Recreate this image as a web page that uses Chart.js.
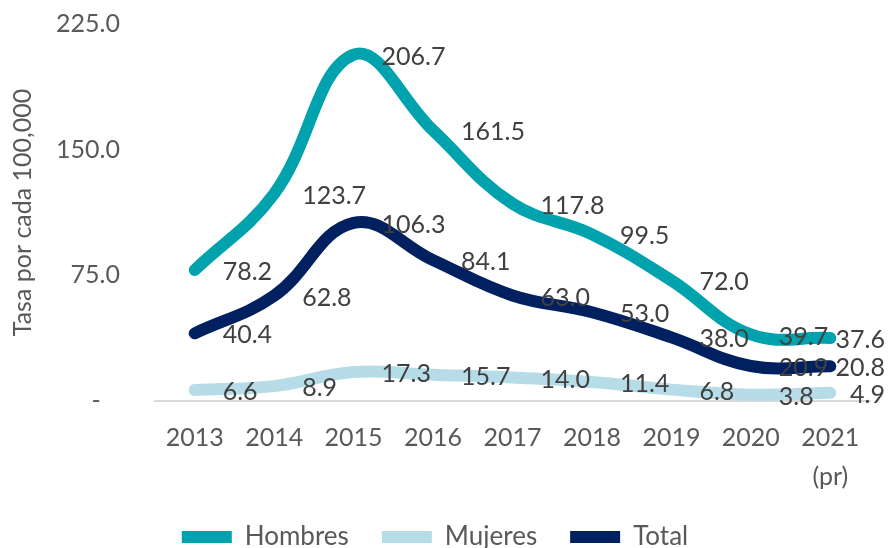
<!DOCTYPE html>
<html>
<head>
<meta charset="utf-8">
<script src="https://cdn.jsdelivr.net/npm/chart.js@4.4.1/dist/chart.umd.min.js"></script>
<style>
  html, body { margin: 0; padding: 0; background: #fff; }
  #wrap { width: 891px; height: 548px; }
</style>
</head>
<body>
<div id="wrap"><canvas id="chart"></canvas></div>
<script>
// ── Data ──────────────────────────────────────────
const years = ['2013', '2014', '2015', '2016', '2017', '2018', '2019', '2020', ['2021', '(pr)']];
const hombres = [78.2, 123.7, 206.7, 161.5, 117.8, 99.5, 72.0, 39.7, 37.6];
const mujeres = [6.6, 8.9, 17.3, 15.7, 14.0, 11.4, 6.8, 3.8, 4.9];
const total = [40.4, 62.8, 106.3, 84.1, 63.0, 53.0, 38.0, 20.9, 20.8];
const yTicks = [0, 75, 150, 225];

const FONT = 'Lato';
const SIZE = 25;

// labels to the right of each point, like Excel's "right" position
const valueLabels = {
  id: 'valueLabels',
  afterDatasetsDraw(chart) {
    const ctx = chart.ctx;
    ctx.save();
    ctx.font = `${SIZE}px ${FONT}`;
    ctx.fillStyle = '#404040';
    ctx.textAlign = 'left';
    ctx.textBaseline = 'middle';
    chart.data.datasets.forEach((ds, di) => {
      const meta = chart.getDatasetMeta(di);
      meta.data.forEach((pt, i) => {
        const txt = ds.data[i].toFixed(1);
        const w = ctx.measureText(txt).width;
        let x = pt.x + 28;
        if (x + w > chart.width - 6) x = chart.width - 6 - w;
        ctx.fillText(txt, x, pt.y + 2);
      });
    });
    ctx.restore();
  },
};

const lineStyle = {
  borderWidth: 12,
  borderCapStyle: 'round',
  borderJoinStyle: 'round',
  pointRadius: 0,
  pointHoverRadius: 0,
  tension: 0.4,
  fill: false,
};

new Chart(document.getElementById('chart'), {
  type: 'line',
  data: {
    labels: years,
    datasets: [
      { label: 'Hombres', data: hombres, borderColor: '#00A3AD', backgroundColor: '#00A3AD', order: 2, ...lineStyle },
      { label: 'Mujeres', data: mujeres, borderColor: '#B6DDE7', backgroundColor: '#B6DDE7', order: 1, ...lineStyle },
      { label: 'Total', data: total, borderColor: '#002060', backgroundColor: '#002060', order: 0, ...lineStyle },
    ],
  },
  options: {
    responsive: true,
    maintainAspectRatio: false,
    animation: false,
    layout: { padding: { top: 24, right: 21, bottom: 0, left: 0 } },
    plugins: {
      tooltip: { enabled: false },
      legend: {
        position: 'bottom',
        maxHeight: 57,
        labels: {
          usePointStyle: true,
          pointStyle: 'line',
          pointStyleWidth: 50,
          padding: 33,
          color: '#595959',
          font: { family: FONT, size: 26 },
          sort: (a, b) => a.datasetIndex - b.datasetIndex,
        },
      },
    },
    scales: {
      x: {
        offset: true,
        grid: { display: false, drawTicks: false },
        border: { display: true, color: '#D9D9D9', width: 2 },
        ticks: {
          color: '#595959',
          padding: 17,
          maxRotation: 0,
          autoSkip: false,
          font: { family: FONT, size: SIZE, lineHeight: 1.56 },
        },
        afterFit: (scale) => { scale.height = 90; },
      },
      y: {
        min: 0,
        max: 225,
        grid: { display: false, drawTicks: false },
        border: { display: false },
        afterBuildTicks: (scale) => {
          scale.ticks = yTicks.map((v) => ({ value: v }));
        },
        ticks: {
          color: '#595959',
          padding: 35,
          font: { family: FONT, size: SIZE },
          callback: (v) => (v === 0 ? '-   ' : v.toFixed(1)),
        },
        title: {
          display: true,
          text: 'Tasa por cada 100,000',
          color: '#595959',
          font: { family: FONT, size: SIZE },
          padding: { top: 8, bottom: 0 },
        },
        afterFit: (scale) => {
          scale.width = 155;
          scale.paddingTop = 15;
          scale.paddingBottom = 15;
        },
      },
    },
  },
  plugins: [valueLabels],
});
</script>
</body>
</html>
